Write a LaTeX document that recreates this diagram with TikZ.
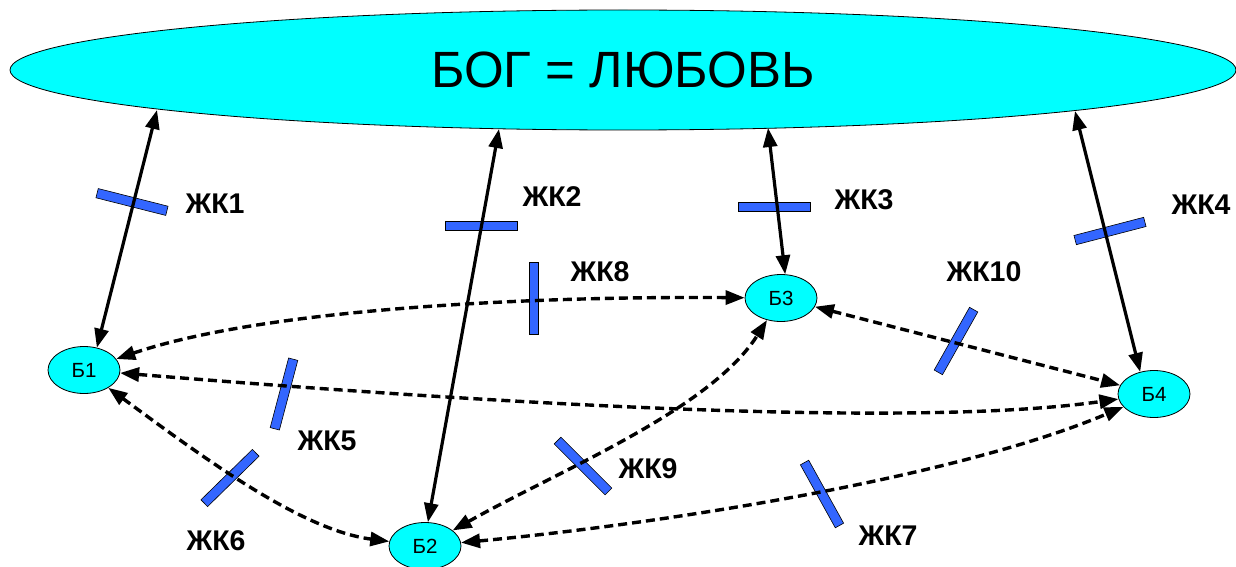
\documentclass[tikz,border=0pt]{standalone}
\usepackage{fontspec}
\setmainfont{Liberation Sans}
\usetikzlibrary{shapes.geometric,arrows.meta}
\definecolor{cyanfill}{RGB}{0,255,255}
\definecolor{barblue}{RGB}{51,102,255}
\begin{document}
\begin{tikzpicture}[x=1pt,y=-1pt,
  ell/.style={ellipse,draw=black,line width=0.8pt,fill=cyanfill,inner sep=0pt},
  bnode/.style={ell,minimum width=72pt,minimum height=47pt,font=\fontsize{20.5}{20.5}\selectfont},
  bar/.style={rectangle,draw=black,line width=0.6pt,fill=barblue,minimum width=72pt,minimum height=9.5pt,inner sep=0pt},
  lbl/.style={font=\bfseries\fontsize{28.5}{28.5}\selectfont,inner sep=0pt},
  solidarr/.style={line width=3.2pt,{Triangle[length=19pt,width=14pt]}-{Triangle[length=19pt,width=14pt]}},
  dasharr/.style={line width=3.4pt,dash pattern=on 9pt off 5pt,{Triangle[length=19pt,width=14pt]}-{Triangle[length=19pt,width=14pt]}}]
\useasboundingbox (0,0) rectangle (1236,567);
% main ellipse
\node[ell,minimum width=1226pt,minimum height=120pt] (god) at (623,70) {\fontsize{51}{51}\selectfont БОГ = ЛЮБОВЬ};
% small nodes
\node[bnode] (b1) at (84,370) {Б1};
\node[bnode] (b2) at (425,546) {Б2};
\node[bnode] (b3) at (781,298) {Б3};
\node[bnode] (b4) at (1154,394) {Б4};
% points on the main ellipse
\coordinate (g1) at (157,110);
\coordinate (g2) at (499,129);
\coordinate (g3) at (768,128);
\coordinate (g4) at (1075,111);
% bars
\node[bar,rotate=-14.2] (k1) at (132,202) {};
\node[bar] (k2) at (481,226) {};
\node[bar] (k3) at (774,207) {};
\node[bar,rotate=14.6] (k4) at (1110,231) {};
\node[bar,rotate=75.2] (k5) at (284,394) {};
\node[bar,rotate=44.4] (k6) at (230,478) {};
\node[bar,rotate=-61] (k7) at (822,494) {};
\node[bar,rotate=90] (k8) at (534,298) {};
\node[bar,rotate=-45] (k9) at (583,466) {};
\node[bar,rotate=60.6] (k10) at (956,341) {};
% solid connectors
\draw[solidarr] (g1) -- (b1.60);
\draw[solidarr] (g2) -- (b2.83);
\draw[solidarr] (g3) -- (b3.80);
\draw[solidarr] (g4) -- (b4.122);
% dashed connectors
\draw[dasharr] (b1) .. controls (260,310) and (520,296) .. (b3);
\draw[dasharr] (b1) .. controls (450,400) and (900,430) .. (b4);
\draw[dasharr] (b1) .. controls (200,455) and (300,530) .. (b2);
\draw[dasharr] (b2) .. controls (560,470) and (710,410) .. (b3);
\draw[dasharr] (b2) .. controls (650,525) and (950,480) .. (b4);
\draw[dasharr] (b3) -- (b4);
% labels
\node[lbl] (l1) at (215,204) {ЖК1};
\node[lbl] (l2) at (552,197) {ЖК2};
\node[lbl] (l3) at (864,200) {ЖК3};
\node[lbl] (l4) at (1201,205) {ЖК4};
\node[lbl] (l5) at (327,441) {ЖК5};
\node[lbl] (l6) at (216,541) {ЖК6};
\node[lbl] (l7) at (888,536) {ЖК7};
\node[lbl] (l8) at (600,272) {ЖК8};
\node[lbl] (l9) at (648,469) {ЖК9};
\node[lbl] (l10) at (984,272) {ЖК10};
\end{tikzpicture}
\end{document}
